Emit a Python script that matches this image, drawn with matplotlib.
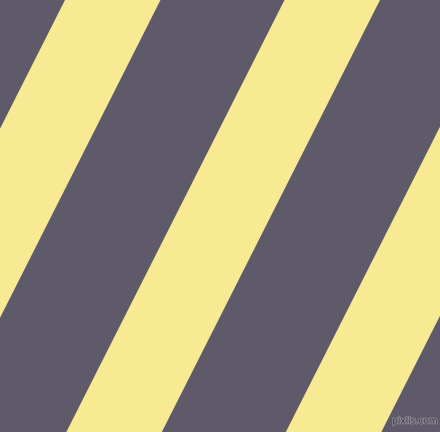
import numpy as np
import matplotlib
matplotlib.use("Agg")
import matplotlib.pyplot as plt
import matplotlib.patheffects as pe

# stripe data (pixel units, measured on the top edge y=0)
stripe_starts = [-154, 65, 284.5, 504]
stripe_width = 95.5
slope = 0.505  # x shift per pixel going down
dark = "#5f5a69"
yellow = "#f8e993"

W, H = 440, 432

fig = plt.figure(figsize=(4.4, 4.32), dpi=100)
ax = fig.add_axes([0, 0, 1, 1])
ax.set_xlim(0, W)
ax.set_ylim(H, 0)
ax.axis("off")
ax.add_patch(plt.Rectangle((0, 0), W, H, color=dark, zorder=0))

y = np.array([0, H])
for s in stripe_starts:
    left = s - slope * y
    right = s + stripe_width - slope * y
    ax.fill_betweenx(y, left, right, color=yellow, linewidth=0, zorder=1)

ax.text(415, 421, "pixlis.com", fontsize=6.5, color="#3c3842", ha="center", va="center",
        zorder=2, path_effects=[pe.withStroke(linewidth=1.3, foreground="#8d8895")])

fig.savefig("out.png", dpi=100)
